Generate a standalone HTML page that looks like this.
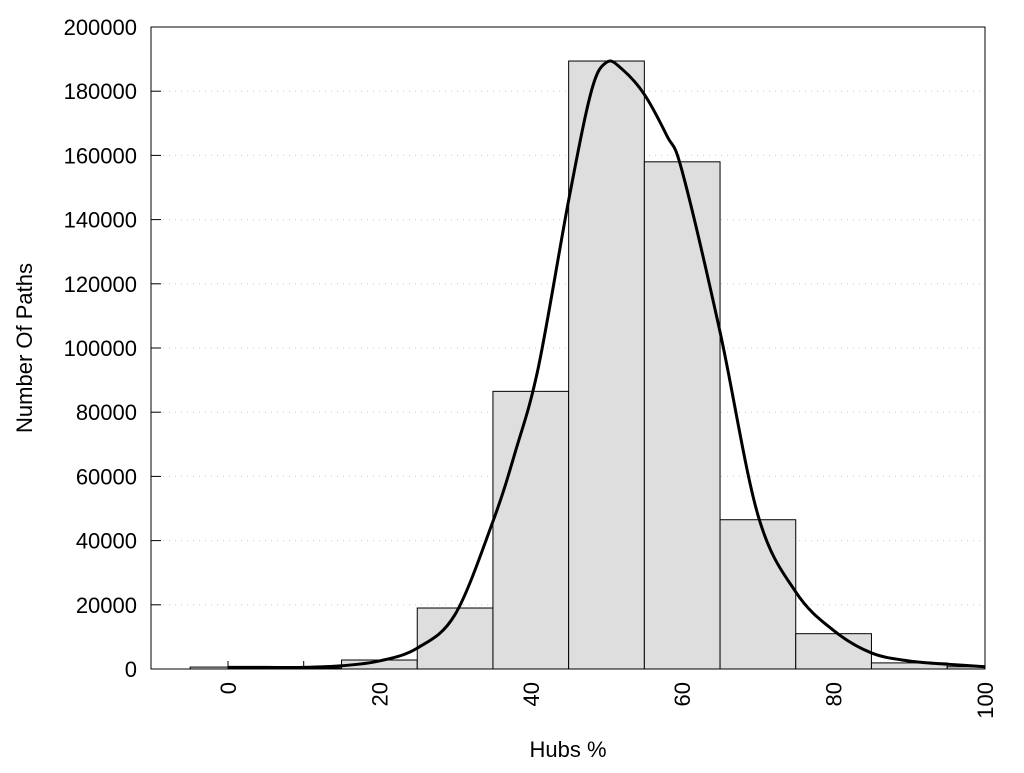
<!DOCTYPE html>
<html><head><meta charset="utf-8"><style>
body{margin:0;background:#fff;}
svg text{font-family:"Liberation Sans",Arial,sans-serif;fill:#000;}
</style></head><body>
<svg id="chart" width="1024" height="768" xmlns="http://www.w3.org/2000/svg"></svg>
<script>
const binStarts=[-5,0,15,25,35,45,55,65,75,85,95];
const binEnds=[0,15,25,35,45,55,65,75,85,95,100];
const binCounts=[600,300,2800,19000,86500,189400,158000,46500,11000,1900,700];
const curveX=[0,5,10,15,20,25,30,35,38,41,45,48,50,52,55,58,60,65,70,75,80,85,90,95,100];
const curveY=[500,500,500,1000,2500,6500,17000,46000,68000,94000,146000,180000,189000,187000,179000,166000,155000,105000,48000,24000,12000,5000,2500,1500,700];
const yTicks=[0,20000,40000,60000,80000,100000,120000,140000,160000,180000,200000];
const xTicks=[0,20,40,60,80,100];
const xMinorTicks=[0,10,20,30,40,50,60,70,80,90,100];

const L=151,R=985,T=27,B=669;
const xs=v=>228+(v)*(985-228)/100;
const ys=v=>B-v*(B-T)/200000;
const svg=document.getElementById('chart');
const NS='http://www.w3.org/2000/svg';
function mk(tag,attrs,parent){const e=document.createElementNS(NS,tag);for(const k in attrs)e.setAttribute(k,attrs[k]);(parent||svg).appendChild(e);return e;}

const grid=mk('g',{});


yTicks.forEach(v=>{if(v>0&&v<200000){const l=mk('line',{x1:L,x2:R,y1:ys(v),y2:ys(v),stroke:'#ccc','stroke-width':1,'stroke-dasharray':'1,5'},grid);

}});

const tk=mk('g',{});


xMinorTicks.forEach(v=>{mk('line',{x1:xs(v),x2:xs(v),y1:B,y2:B-8,stroke:'#000','stroke-width':1},tk);});

const bars=mk('g',{});


binCounts.forEach((c,i)=>{const x0=xs(binStarts[i]),x1=Math.min(xs(binEnds[i]),R);
const r=mk('rect',{x:x0,y:ys(c),width:x1-x0,height:B-ys(c),fill:'#dedede',stroke:'#000','stroke-width':1},bars);

});

const pts=curveX.map((x,i)=>[xs(x),ys(curveY[i])]);
let d='M'+pts[0][0]+','+pts[0][1];
for(let i=0;i<pts.length-1;i++){const p0=pts[Math.max(0,i-1)],p1=pts[i],p2=pts[i+1],p3=pts[Math.min(pts.length-1,i+2)];
d+=' C'+(p1[0]+(p2[0]-p0[0])/6)+','+(p1[1]+(p2[1]-p0[1])/6)+' '+(p2[0]-(p3[0]-p1[0])/6)+','+(p2[1]-(p3[1]-p1[1])/6)+' '+p2[0]+','+p2[1];}
const cv=mk('path',{d:d,fill:'none',stroke:'#000','stroke-width':3});



const fr=mk('rect',{x:L,y:T,width:R-L,height:B-T,fill:'none',stroke:'#000','stroke-width':1});



const ya=mk('g',{});


yTicks.forEach(v=>{mk('line',{x1:L,x2:L+10,y1:ys(v),y2:ys(v),stroke:'#000'},ya);
const t=mk('text',{x:137,y:ys(v)+8,'text-anchor':'end','font-size':22},ya);t.textContent=v;

});

const xa=mk('g',{});


xTicks.forEach(v=>{const t=mk('text',{transform:'translate('+(xs(v)+8)+',682) rotate(-90)','text-anchor':'end','font-size':22},xa);t.textContent=v;

});

const xt=mk('text',{x:568,y:757,'text-anchor':'middle','font-size':22});xt.textContent='Hubs %';


const yt=mk('text',{transform:'translate(32,348) rotate(-90)','text-anchor':'middle','font-size':22});yt.textContent='Number Of Paths';


</script>
</body></html>
